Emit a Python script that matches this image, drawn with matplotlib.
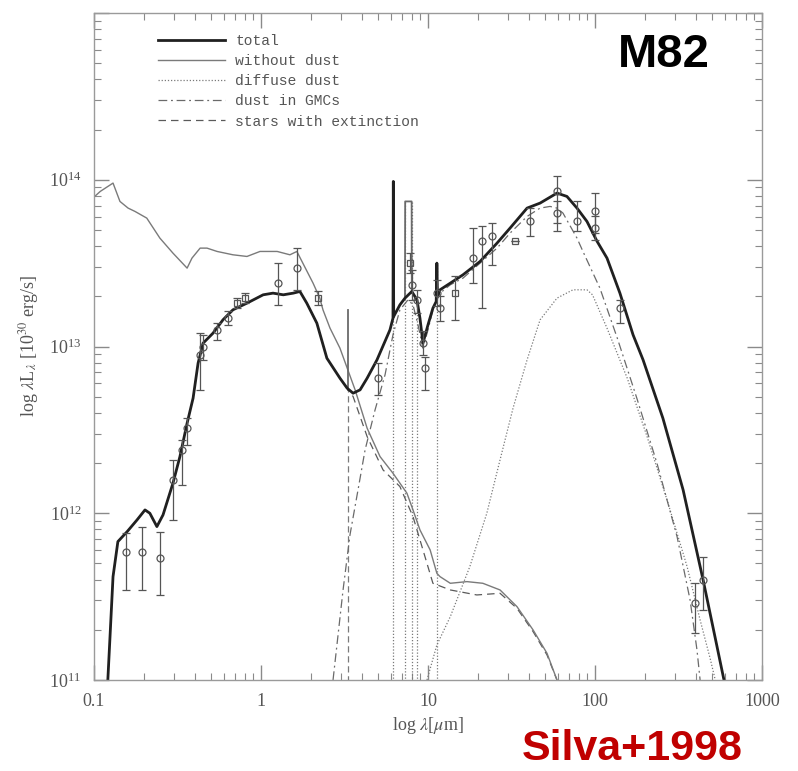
import numpy as np
import matplotlib
matplotlib.use("Agg")
import matplotlib.pyplot as plt
from matplotlib.ticker import LogLocator, NullFormatter, FixedLocator, FixedFormatter

# ---------------- data (wavelength in micron, log10 of lambda*L_lambda) ----------------
total_lam = [0.121, 0.125, 0.130, 0.139, 0.158, 0.181, 0.202, 0.216, 0.238, 0.259, 0.297, 0.327,
             0.361, 0.392, 0.420, 0.450, 0.516, 0.592, 0.679, 0.824, 1.03, 1.18, 1.36, 1.56, 1.71,
             1.88, 2.16, 2.48, 2.97, 3.28, 3.56, 3.92, 4.32, 4.95, 5.92, 6.17, 6.20,
             6.23, 6.79, 7.28, 8.0, 8.59, 8.95, 9.33, 10.0, 10.7, 11.2, 11.3, 11.4,
             11.8, 13.6, 16.2, 20.5, 25.9, 31.0, 39.2, 46.9, 59.2, 67.9, 78.0, 89.5, 103, 118,
             141, 169, 194, 255, 337, 444, 538, 592]
total_logL = [11.0, 11.28, 11.62, 11.83, 11.89, 11.96, 12.02, 12.00, 11.92, 11.99, 12.18, 12.34,
              12.54, 12.69, 12.90, 13.02, 13.08, 13.16, 13.22, 13.26, 13.31, 13.32, 13.31, 13.32, 13.33,
              13.26, 13.14, 12.93, 12.81, 12.75, 12.72, 12.74, 12.81, 12.92, 13.10, 13.17, 13.99,
              13.18, 13.25, 13.29, 13.33, 13.28, 13.17, 13.02, 13.13, 13.23, 13.27, 13.50, 13.30,
              13.34, 13.38, 13.43, 13.51, 13.62, 13.71, 13.83, 13.86, 13.92, 13.90, 13.83, 13.75, 13.63, 13.53,
              13.32, 13.07, 12.92, 12.57, 12.14, 11.60, 11.20, 11.0]

# thin PAH features standing above the total (3.3 micron spike, 7.7 micron band)
spike33_lam = [3.30, 3.30]
spike33_logL = [12.74, 13.22]
band77_lam = [7.28, 7.30, 7.98, 8.0]
band77_logL = [13.29, 13.87, 13.87, 13.33]

nodust_lam = [0.101, 0.109, 0.130, 0.143, 0.160, 0.176, 0.207, 0.248, 0.297, 0.361, 0.386, 0.432,
              0.475, 0.546, 0.679, 0.824, 0.986, 1.25, 1.49, 1.64, 1.78, 2.05, 2.25, 2.35, 2.59, 2.97,
              3.66, 4.32, 5.16, 6.17, 7.48, 8.13, 8.95, 10.3, 11.3, 11.8, 13.6, 17.1, 21.3, 27.0,
              34.1, 42.6, 51.6, 59.2]
nodust_logL = [13.90, 13.93, 13.98, 13.87, 13.83, 13.81, 13.77, 13.65, 13.56, 13.47, 13.53, 13.59,
               13.59, 13.57, 13.55, 13.54, 13.57, 13.57, 13.55, 13.57, 13.50, 13.38, 13.29, 13.22, 13.11, 12.99,
               12.74, 12.51, 12.34, 12.24, 12.12, 12.02, 11.90, 11.78, 11.64, 11.62, 11.58, 11.59, 11.58, 11.54,
               11.44, 11.30, 11.16, 11.0]

diffuse_lam = [9.86, 11.3, 13.6, 17.8, 22.5, 27.0, 32.3, 39.2, 46.9, 59.2, 73.8, 89.5, 96.6, 118,
               156, 205, 270, 356, 426, 489, 525]
diffuse_logL = [11.0, 11.21, 11.38, 11.68, 12.0, 12.32, 12.63, 12.92, 13.16, 13.29, 13.34, 13.34, 13.31,
                13.11, 12.81, 12.46, 12.08, 11.68, 11.36, 11.13, 11.0]

pah_lam = [3.30, 6.20, 7.30, 7.98, 8.6, 11.3]
pah_logL = [12.74, 13.99, 13.87, 13.87, 13.28, 13.50]

gmc_lam = [2.70, 3.10, 3.41, 3.81, 4.20, 4.82, 5.53, 6.17, 6.79, 7.59, 8.13, 8.71, 9.33, 10.0, 10.7,
           11.8, 13.6, 16.2, 20.5, 25.9, 31.0, 39.2, 46.9, 53.8, 59.2, 64.3, 78.0, 84.7, 107, 136,
           178, 235, 310, 371, 408, 426]
gmc_logL = [11.0, 11.54, 11.87, 12.14, 12.38, 12.62, 12.83, 13.07, 13.22, 13.28, 13.25, 13.13, 12.99,
            13.10, 13.22, 13.32, 13.37, 13.41, 13.50, 13.59, 13.68, 13.78, 13.83, 13.84, 13.83, 13.80,
            13.65, 13.57, 13.35, 13.05, 12.69, 12.30, 11.86, 11.48, 11.18, 11.0]

starext_lam = [0.121, 0.125, 0.130, 0.139, 0.158, 0.181, 0.202, 0.216, 0.238, 0.259, 0.297, 0.327,
               0.361, 0.392, 0.420, 0.450, 0.516, 0.592, 0.679, 0.824, 1.03, 1.18, 1.36, 1.56, 1.71,
               1.88, 2.16, 2.48, 2.97, 3.56, 4.32, 5.38, 6.79, 8.13, 9.33, 10.7, 13.6, 19.6, 27.0,
               34.1, 42.6, 51.6, 59.2]
starext_logL = [11.0, 11.28, 11.62, 11.83, 11.89, 11.96, 12.02, 12.00, 11.92, 11.99, 12.18, 12.34,
                12.54, 12.69, 12.90, 13.02, 13.08, 13.16, 13.22, 13.26, 13.31, 13.32, 13.31, 13.32, 13.33,
                13.26, 13.14, 12.93, 12.81, 12.70, 12.46, 12.26, 12.16, 11.98, 11.78, 11.58, 11.54, 11.51, 11.52,
                11.43, 11.29, 11.15, 11.0]

# observed photometry (circles)
obs_lam = [0.156, 0.194, 0.248, 0.297, 0.336, 0.360, 0.431, 0.450, 0.546, 0.634, 1.26, 1.64, 5.02,
           8.0, 8.6, 9.33, 9.6, 11.3, 11.8, 18.6, 21.0, 24.2, 40.8, 59.2, 59.2, 78.0, 100, 100, 141,
           444, 397]
obs_logL = [11.77, 11.77, 11.73, 12.20, 12.38, 12.51, 12.95, 13.00, 13.10, 13.17, 13.38, 13.47, 12.81,
            13.37, 13.28, 13.02, 12.87, 13.32, 13.23, 13.53, 13.63, 13.66, 13.75, 13.93, 13.80, 13.75,
            13.81, 13.71, 13.23, 11.60, 11.46]
obs_hi = [11.88, 11.92, 11.89, 12.32, 12.44, 12.57, 13.08, 13.07, 13.14, 13.21, 13.50, 13.59, 12.90,
          13.46, 13.34, 13.09, 12.94, 13.40, 13.30, 13.71, 13.72, 13.74, 13.83, 14.02, 13.87, 13.87,
          13.92, 13.78, 13.28, 11.74, 11.58]
obs_lo = [11.54, 11.54, 11.51, 11.96, 12.17, 12.41, 12.74, 12.92, 13.04, 13.13, 13.25, 13.34, 12.71,
          13.28, 13.20, 12.95, 12.74, 13.24, 13.15, 13.38, 13.23, 13.49, 13.66, 13.69, 13.74, 13.69,
          13.68, 13.64, 13.14, 11.42, 11.28]

# observed photometry (squares)
sq_lam = [0.718, 0.80, 2.19, 7.8, 14.5, 33.2]
sq_logL = [13.26, 13.29, 13.29, 13.50, 13.32, 13.63]
sq_hi = [13.29, 13.32, 13.33, 13.56, 13.42, 13.63]
sq_lo = [13.23, 13.26, 13.25, 13.44, 13.16, 13.63]

legend_labels = ["total", "without dust", "diffuse dust", "dust in GMCs", "stars with extinction"]

# ---------------- plotting ----------------
plt.rcParams['mathtext.fontset'] = 'stix'
plt.rcParams['font.family'] = ['Liberation Serif', 'DejaVu Serif']

W, H = 798, 771
fig = plt.figure(figsize=(W / 100, H / 100), dpi=100)
ax = fig.add_axes([94 / W, 1 - 680 / H, (762 - 94) / W, (680 - 13) / H])
ax.set_xscale('log')
ax.set_yscale('log')
ax.set_xlim(0.1, 1000)
ax.set_ylim(1e11, 1e15)

def P(v):
    return 10 ** np.asarray(v, dtype=float)

lc = '#7a7a7a'
# PAH features of the diffuse component (vertical lines from below the frame)
for lam, top in zip(pah_lam, pah_logL):
    ls = (0, (5, 3)) if lam < 4 else (0, (1, 1.5))
    ax.plot([lam, lam], [1e10, 10 ** top], color=lc, lw=0.9, ls=ls)

l_diff, = ax.plot(diffuse_lam, P(diffuse_logL), color=lc, lw=0.9, ls=(0, (1, 1.5)))
l_gmc, = ax.plot(gmc_lam, P(gmc_logL), color='#6a6a6a', lw=0.9, ls=(0, (7, 3, 1.5, 3)))
l_star, = ax.plot(starext_lam, P(starext_logL), color='#5a5a5a', lw=0.9, ls=(0, (6, 4)))
l_nod, = ax.plot(nodust_lam, P(nodust_logL), color='#7a7a7a', lw=1.0)
ax.plot(spike33_lam, P(spike33_logL), color='#6a6a6a', lw=1.3)
ax.plot(band77_lam, P(band77_logL), color='#6a6a6a', lw=1.3)
l_tot, = ax.plot(total_lam, P(total_logL), color='#202020', lw=2.0)

ecol = '#555555'
ax.errorbar(obs_lam, P(obs_logL),
            yerr=[P(obs_logL) - P(obs_lo), P(obs_hi) - P(obs_logL)],
            fmt='o', ms=5, mfc='none', mec=ecol, mew=0.9, ecolor=ecol, elinewidth=0.9,
            capsize=3, capthick=0.9, zorder=5)
ax.errorbar(sq_lam, P(sq_logL),
            yerr=[P(sq_logL) - P(sq_lo), P(sq_hi) - P(sq_logL)],
            fmt='s', ms=5, mfc='none', mec=ecol, mew=0.9, ecolor=ecol, elinewidth=0.9,
            capsize=3, capthick=0.9, zorder=5)

# axes styling
for s in ax.spines.values():
    s.set_color('#9a9a9a')
    s.set_linewidth(1.0)
ax.tick_params(which='both', direction='in', top=True, right=True, color='#8a8a8a',
               labelcolor='#555555', labelsize=13, pad=9)
ax.tick_params(which='major', length=11, width=1)
ax.tick_params(which='minor', length=5, width=0.8)

ax.xaxis.set_major_locator(FixedLocator([0.1, 1, 10, 100, 1000]))
ax.xaxis.set_major_formatter(FixedFormatter(['0.1', '1', '10', '100', '1000']))
ax.xaxis.set_minor_locator(LogLocator(base=10, subs=np.arange(2, 10), numticks=20))
ax.xaxis.set_minor_formatter(NullFormatter())
ax.yaxis.set_major_locator(FixedLocator([1e11, 1e12, 1e13, 1e14, 1e15]))
ax.yaxis.set_major_formatter(FixedFormatter([r'$\mathregular{10^{11}}$', r'$\mathregular{10^{12}}$',
                                             r'$\mathregular{10^{13}}$', r'$\mathregular{10^{14}}$', '']))
ax.yaxis.set_minor_locator(LogLocator(base=10, subs=np.arange(2, 10), numticks=20))
ax.yaxis.set_minor_formatter(NullFormatter())

ax.set_xlabel(r'log $\lambda$[$\mu$m]', fontsize=13, color='#555555', labelpad=4)
ax.set_ylabel(r'log $\lambda$L$_\lambda$ [10$^{30}$ erg/s]', fontsize=13, color='#555555', labelpad=6)

leg = ax.legend([l_tot, l_nod, l_diff, l_gmc, l_star], legend_labels,
                loc='upper left', bbox_to_anchor=(158 / W, 1 - 34 / H), bbox_transform=fig.transFigure,
                frameon=False, prop={'family': 'Liberation Mono', 'size': 10.5},
                handlelength=4.6, handletextpad=0.7, labelspacing=0.42, borderpad=0, borderaxespad=0)
for t in leg.get_texts():
    t.set_color('#555555')

fig.text(664 / W, 1 - 55 / H, 'M82', ha='center', va='center', fontsize=34,
         fontweight='bold', family='Liberation Sans', color='black')
fig.text(522 / W, 1.5 / H, 'Silva+1998', ha='left', va='bottom', fontsize=31,
         fontweight='bold', family='Liberation Sans', color='#c00000')

fig.savefig('out.png', dpi=100)
